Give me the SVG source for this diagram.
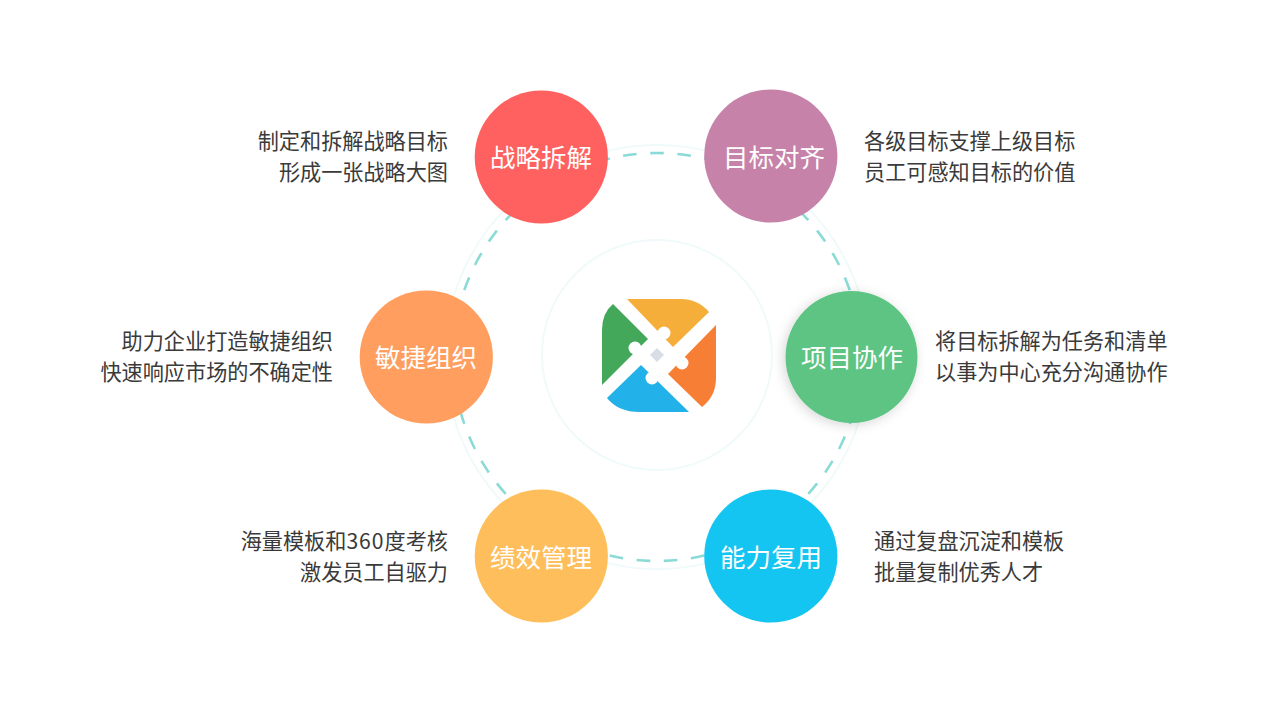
<svg xmlns="http://www.w3.org/2000/svg" width="1267" height="713" viewBox="0 0 1267 713">
<defs>
<filter id="sh" x="-30%" y="-30%" width="160%" height="160%"><feDropShadow dx="-2" dy="2" stdDeviation="6" flood-color="#000" flood-opacity="0.16"/></filter>
</defs>
<style>
text{font-family:"Noto Sans CJK SC","Noto Sans",sans-serif}
.lb{font-size:25.5px;fill:#fff;text-anchor:middle}
.d{font-size:21.15px;fill:#3a3a3a}
.e{text-anchor:end}
.ring{fill:none;stroke:#f0fafa;stroke-width:2}
</style>
<rect width="1267" height="713" fill="#fff"/>
<g id="connectors">
<circle class="ring" cx="657" cy="357" r="212"/>
<circle class="ring" cx="657" cy="355" r="115"/>
<circle cx="657" cy="357" r="204" fill="none" stroke="#8adbd6" stroke-width="2.6" pathLength="47" stroke-dasharray="0.5 0.5" stroke-dashoffset="0.25" transform="rotate(-90 657 357)"/>
</g>
<g id="logo">
<path fill="#f6ae3a" d="M627 299H680Q698 299 709 312L673 347Z"/>
<path fill="#43a85a" d="M613 304L648 339L602 385V330Q602 313 613 304Z"/>
<path fill="#f67f35" d="M716 325V378Q716 396 702 407L668 374Z"/>
<path fill="#22b1e8" d="M641 365L689 412H640Q618 412 607 398Z"/>
<g fill="#fff">
<circle cx="664" cy="333" r="6.5"/>
<circle cx="635" cy="348" r="6.5"/>
<circle cx="682" cy="363" r="6.5"/>
<circle cx="652" cy="378" r="6.5"/>
</g>
<path fill="#d8dde6" d="M657 348L664 355L657 362L650 355Z"/>
</g>
<g id="n1"><circle cx="541.3" cy="157" r="66.6" fill="#ff6160"/><text class="lb" x="541" y="167">战略拆解</text><text class="d e" x="448" y="149">制定和拆解战略目标</text><text class="d e" x="448" y="180">形成一张战略大图</text></g>
<g id="n2"><circle cx="770.8" cy="156" r="66.6" fill="#c682a9"/><text class="lb" x="774" y="167">目标对齐</text><text class="d" x="864" y="149">各级目标支撑上级目标</text><text class="d" x="864" y="180">员工可感知目标的价值</text></g>
<g id="n3"><circle cx="851.5" cy="357" r="66" fill="#5dc483" filter="url(#sh)"/><text class="lb" x="852" y="367">项目协作</text><text class="d" x="935" y="349">将目标拆解为任务和清单</text><text class="d" x="935" y="380">以事为中心充分沟通协作</text></g>
<g id="n4"><circle cx="770.8" cy="556" r="66.6" fill="#14c5f1"/><text class="lb" x="771" y="567">能力复用</text><text class="d" x="874" y="549">通过复盘沉淀和模板</text><text class="d" x="874" y="580">批量复制优秀人才</text></g>
<g id="n5"><circle cx="541.3" cy="556" r="66.6" fill="#ffbe5c"/><text class="lb" x="541" y="567">绩效管理</text><text class="d e" x="448" y="549">海量模板和<tspan letter-spacing="1">360</tspan>度考核</text><text class="d e" x="448" y="580">激发员工自驱力</text></g>
<g id="n6"><circle cx="426.3" cy="357" r="66.6" fill="#ff9e5e"/><text class="lb" x="426" y="367">敏捷组织</text><text class="d e" x="333" y="349">助力企业打造敏捷组织</text><text class="d e" x="333" y="380">快速响应市场的不确定性</text></g>
</svg>
